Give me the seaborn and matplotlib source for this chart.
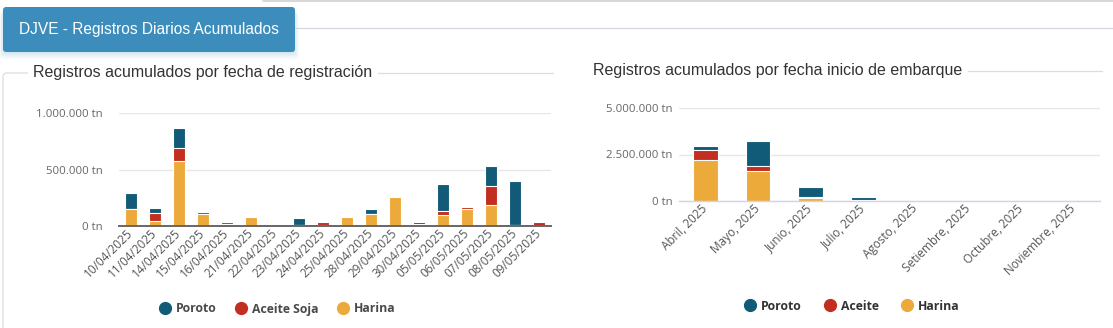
import matplotlib
matplotlib.use("Agg")
import matplotlib.pyplot as plt
from matplotlib.patches import FancyBboxPatch, PathPatch
from matplotlib.path import Path
from matplotlib.lines import Line2D
from matplotlib.ticker import FuncFormatter, FixedLocator
import seaborn as sns
import pandas as pd

# --- Registros por fecha de registración (tn) ---
fechas = ["10/04/2025", "11/04/2025", "14/04/2025", "15/04/2025", "16/04/2025",
          "21/04/2025", "22/04/2025", "23/04/2025", "24/04/2025", "25/04/2025",
          "28/04/2025", "29/04/2025", "30/04/2025", "05/05/2025", "06/05/2025",
          "07/05/2025", "08/05/2025", "09/05/2025"]
harina_reg = [150000, 47000, 576000, 109000, 21000, 82000, 0, 12000, 12000,
              82000, 109000, 259000, 5000, 100000, 153000, 182000, 5000, 0]
aceite_reg = [0, 71000, 115000, 17000, 17000, 0, 0, 0, 23000,
              0, 0, 0, 12000, 35000, 15000, 174000, 7000, 38000]
poroto_reg = [141000, 44000, 174000, 0, 0, 0, 0, 62000, 0,
              0, 44000, 0, 18000, 238000, 0, 176000, 388000, 0]

# --- Registros por fecha inicio de embarque (tn) ---
meses = ["Abril, 2025", "Mayo, 2025", "Junio, 2025", "Julio, 2025",
         "Agosto, 2025", "Setiembre, 2025", "Octubre, 2025", "Noviembre, 2025"]
harina_emb = [2230000, 1600000, 140000, 25000, 0, 0, 0, 0]
aceite_emb = [486000, 270000, 80000, 5000, 0, 0, 0, 0]
poroto_emb = [216000, 1330000, 550000, 200000, 0, 0, 0, 0]

reg_ticks = [0, 500000, 1000000]
emb_ticks = [0, 2500000, 5000000]

COL_POROTO = "#115b78"
COL_ACEITE = "#c22e1f"
COL_HARINA = "#ecaa3b"

sns.set_style("white")
plt.rcParams["font.family"] = ["Open Sans", "DejaVu Sans"]

W, H = 1113, 328
fig = plt.figure(figsize=(W / 100, H / 100), dpi=100)


def rect(x0, y0, x1, y1):
    """Pixel box (top-left origin) -> figure fraction rect."""
    return [x0 / W, 1 - y1 / H, (x1 - x0) / W, (y1 - y0) / H]


def fmt_tn(v, _):
    return f"{int(round(v)):,}".replace(",", ".") + " tn"


# Background layer in pixel coordinates for header, titles and frames
bg = fig.add_axes([0, 0, 1, 1], zorder=-5)
bg.set_xlim(0, W)
bg.set_ylim(H, 0)
bg.axis("off")

# Header button with soft shadow
for i, a in enumerate([0.05, 0.05, 0.05, 0.04, 0.03]):
    bg.add_patch(FancyBboxPatch((3 - i, 8 + i * 1.6), 292 + 2 * i, 45,
                                boxstyle="round,pad=0,rounding_size=4",
                                fc="#3c8dbc", ec="none", alpha=a))
bg.add_patch(FancyBboxPatch((3, 7), 292, 45, boxstyle="round,pad=0,rounding_size=3",
                            fc="#3c8dbc", ec="none"))
bg.text(149, 29.5, "DJVE - Registros Diarios Acumulados", color="white",
        fontsize=11.2, family=["Liberation Sans", "DejaVu Sans"],
        ha="center", va="center")
bg.plot([295, W], [28, 28], color="#d2d6de", lw=0.8)
bg.plot([263, W], [0.8, 0.8], color="#cfcfcf", lw=1.2)

# Left fieldset frame
frame = Path([(3, H + 2), (3, 77), (3, 73), (7, 73), (28, 73)],
             [Path.MOVETO, Path.LINETO, Path.CURVE3, Path.CURVE3, Path.LINETO])
bg.add_patch(PathPatch(frame, fc="none", ec="#dddddd", lw=0.9))
bg.plot([378, 553], [73, 73], color="#dddddd", lw=0.9)
bg.text(33, 73, "Registros acumulados por fecha de registración", color="#333333",
        fontsize=11.5, family=["Liberation Sans", "DejaVu Sans"], ha="left", va="center")

# Right fieldset frame
bg.plot([968, 1102], [71, 71], color="#dddddd", lw=0.9)
bg.text(593, 71, "Registros acumulados por fecha inicio de embarque", color="#333333",
        fontsize=11.5, family=["Liberation Sans", "DejaVu Sans"], ha="left", va="center")


def stacked(ax, cats, harina, aceite, poroto, width):
    h = pd.Series(harina, index=cats, dtype=float)
    ha = h + pd.Series(aceite, index=cats, dtype=float)
    total = ha + pd.Series(poroto, index=cats, dtype=float)
    for vals, c in [(total, COL_POROTO), (ha, COL_ACEITE), (h, COL_HARINA)]:
        sns.barplot(x=cats, y=vals.values, order=cats, color=c, saturation=1,
                    width=width, edgecolor="white", linewidth=0.8,
                    errorbar=None, ax=ax)


def style_axis(ax, ticks, base_color, base_lw, ypad):
    ax.set_ylim(ticks[0], ticks[-1])
    ax.yaxis.set_major_locator(FixedLocator(ticks))
    ax.yaxis.set_major_formatter(FuncFormatter(fmt_tn))
    ax.set_xlabel("")
    ax.set_ylabel("")
    ax.set_facecolor("none")
    ax.set_axisbelow(True)
    ax.grid(axis="y", color="#e6e6e6", lw=0.9)
    ax.grid(axis="x", visible=False)
    for s in ["top", "left", "right"]:
        ax.spines[s].set_visible(False)
    ax.spines["bottom"].set_color(base_color)
    ax.spines["bottom"].set_linewidth(base_lw)
    ax.spines["bottom"].set_zorder(5)
    ax.tick_params(axis="y", length=0, pad=ypad, labelsize=8.2, labelcolor="#666666")
    ax.tick_params(axis="x", length=0, pad=4, labelsize=8.5, labelcolor="#555555")
    for lab in ax.get_xticklabels():
        lab.set_rotation(45)
        lab.set_ha("right")
        lab.set_va("center")
        lab.set_rotation_mode("anchor")


ax1 = fig.add_axes(rect(119, 113, 551, 226))
stacked(ax1, fechas, harina_reg, aceite_reg, poroto_reg, 0.46)
style_axis(ax1, reg_ticks, "#666666", 1.4, 11.5)

ax2 = fig.add_axes(rect(679, 108, 1100, 201))
stacked(ax2, meses, harina_emb, aceite_emb, poroto_emb, 0.47)
style_axis(ax2, emb_ticks, "#ccd6eb", 1.0, 4.5)


def legend(labels, center, y, color, spacing):
    cols = [COL_POROTO, COL_ACEITE, COL_HARINA]
    handles = [Line2D([0], [0], marker="o", ls="", markersize=8.5,
                      markerfacecolor=c, markeredgecolor=c) for c in cols]
    fig.legend(handles, labels, loc="center",
               bbox_to_anchor=(center / W, 1 - y / H), ncol=3, frameon=False,
               handlelength=0.8, handletextpad=0.5, columnspacing=spacing,
               prop={"weight": "bold", "size": 8.8}, labelcolor=color)


legend(["Poroto", "Aceite Soja", "Harina"], 278, 309, "#4a4a4a", 1.6)
legend(["Poroto", "Aceite", "Harina"], 852, 306, "#333333", 1.9)

fig.savefig("out.png", dpi=100)
